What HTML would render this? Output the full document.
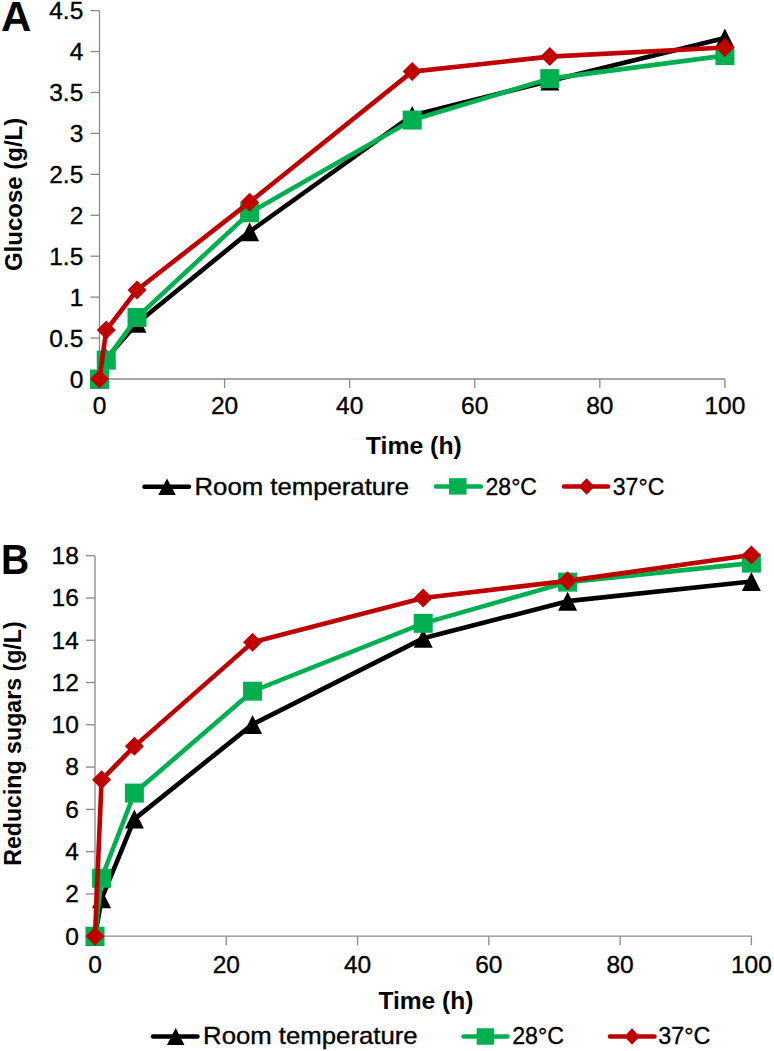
<!DOCTYPE html>
<html><head><meta charset="utf-8"><style>
html,body{margin:0;padding:0;background:#fff;}
svg{display:block;}
text{font-family:"Liberation Sans",sans-serif;fill:#000;}
.tk{font-size:24.5px;stroke:#000;stroke-width:0.35px;}
.lg{font-size:24px;stroke:#000;stroke-width:0.35px;}
.ti{font-size:24px;font-weight:bold;}
.big{font-size:42px;font-weight:bold;}
</style></head><body>
<svg width="774" height="1051" viewBox="0 0 774 1051">
<path d="M99.5,10.6 V379.0 H724.9" fill="none" stroke="#898989" stroke-width="1.3"/>
<path d="M90.5,379.00 H99.5" stroke="#898989" stroke-width="1.3"/>
<text x="83.3" y="387.70" text-anchor="end" class="tk">0</text>
<path d="M90.5,338.07 H99.5" stroke="#898989" stroke-width="1.3"/>
<text x="83.3" y="346.77" text-anchor="end" class="tk">0.5</text>
<path d="M90.5,297.13 H99.5" stroke="#898989" stroke-width="1.3"/>
<text x="83.3" y="305.83" text-anchor="end" class="tk">1</text>
<path d="M90.5,256.20 H99.5" stroke="#898989" stroke-width="1.3"/>
<text x="83.3" y="264.90" text-anchor="end" class="tk">1.5</text>
<path d="M90.5,215.27 H99.5" stroke="#898989" stroke-width="1.3"/>
<text x="83.3" y="223.97" text-anchor="end" class="tk">2</text>
<path d="M90.5,174.33 H99.5" stroke="#898989" stroke-width="1.3"/>
<text x="83.3" y="183.03" text-anchor="end" class="tk">2.5</text>
<path d="M90.5,133.40 H99.5" stroke="#898989" stroke-width="1.3"/>
<text x="83.3" y="142.10" text-anchor="end" class="tk">3</text>
<path d="M90.5,92.47 H99.5" stroke="#898989" stroke-width="1.3"/>
<text x="83.3" y="101.17" text-anchor="end" class="tk">3.5</text>
<path d="M90.5,51.53 H99.5" stroke="#898989" stroke-width="1.3"/>
<text x="83.3" y="60.23" text-anchor="end" class="tk">4</text>
<path d="M90.5,10.60 H99.5" stroke="#898989" stroke-width="1.3"/>
<text x="83.3" y="19.30" text-anchor="end" class="tk">4.5</text>
<path d="M224.58,379.0 V388.0" stroke="#898989" stroke-width="1.3"/>
<path d="M349.66,379.0 V388.0" stroke="#898989" stroke-width="1.3"/>
<path d="M474.74,379.0 V388.0" stroke="#898989" stroke-width="1.3"/>
<path d="M599.82,379.0 V388.0" stroke="#898989" stroke-width="1.3"/>
<path d="M724.90,379.0 V388.0" stroke="#898989" stroke-width="1.3"/>
<text x="99.50" y="414.3" text-anchor="middle" class="tk">0</text>
<text x="224.58" y="414.3" text-anchor="middle" class="tk">20</text>
<text x="349.66" y="414.3" text-anchor="middle" class="tk">40</text>
<text x="474.74" y="414.3" text-anchor="middle" class="tk">60</text>
<text x="599.82" y="414.3" text-anchor="middle" class="tk">80</text>
<text x="724.90" y="414.3" text-anchor="middle" class="tk">100</text>
<polyline points="99.50,379.00 106.25,358.53 137.02,323.33 249.60,231.64 412.20,115.39 549.79,81.01 724.90,38.03" fill="none" stroke="#000000" stroke-width="4.6" stroke-linejoin="round" stroke-linecap="round"/>
<path d="M99.50,369.50 L109.00,388.50 L90.00,388.50Z" fill="#000"/>
<path d="M106.25,349.03 L115.75,368.03 L96.75,368.03Z" fill="#000"/>
<path d="M137.02,313.83 L146.52,332.83 L127.52,332.83Z" fill="#000"/>
<path d="M249.60,222.14 L259.10,241.14 L240.10,241.14Z" fill="#000"/>
<path d="M412.20,105.89 L421.70,124.89 L402.70,124.89Z" fill="#000"/>
<path d="M549.79,71.51 L559.29,90.51 L540.29,90.51Z" fill="#000"/>
<path d="M724.90,28.53 L734.40,47.53 L715.40,47.53Z" fill="#000"/>
<polyline points="99.50,379.00 106.25,360.17 137.02,317.44 249.60,212.81 412.20,120.06 549.79,78.63 724.90,55.63" fill="none" stroke="#00B050" stroke-width="4.6" stroke-linejoin="round" stroke-linecap="round"/>
<rect x="90.00" y="369.50" width="19.00" height="19.00" fill="#00B050"/>
<rect x="96.75" y="350.67" width="19.00" height="19.00" fill="#00B050"/>
<rect x="127.52" y="307.94" width="19.00" height="19.00" fill="#00B050"/>
<rect x="240.10" y="203.31" width="19.00" height="19.00" fill="#00B050"/>
<rect x="402.70" y="110.56" width="19.00" height="19.00" fill="#00B050"/>
<rect x="540.29" y="69.13" width="19.00" height="19.00" fill="#00B050"/>
<rect x="715.40" y="46.13" width="19.00" height="19.00" fill="#00B050"/>
<polyline points="99.50,379.00 106.25,330.04 137.02,290.01 249.60,202.17 412.20,71.59 549.79,56.61 724.90,47.44" fill="none" stroke="#C00000" stroke-width="4.6" stroke-linejoin="round" stroke-linecap="round"/>
<path d="M99.50,369.50 L109.00,379.00 L99.50,388.50 L90.00,379.00Z" fill="#C00000"/>
<path d="M106.25,320.54 L115.75,330.04 L106.25,339.54 L96.75,330.04Z" fill="#C00000"/>
<path d="M137.02,280.51 L146.52,290.01 L137.02,299.51 L127.52,290.01Z" fill="#C00000"/>
<path d="M249.60,192.67 L259.10,202.17 L249.60,211.67 L240.10,202.17Z" fill="#C00000"/>
<path d="M412.20,62.09 L421.70,71.59 L412.20,81.09 L402.70,71.59Z" fill="#C00000"/>
<path d="M549.79,47.11 L559.29,56.61 L549.79,66.11 L540.29,56.61Z" fill="#C00000"/>
<path d="M724.90,37.94 L734.40,47.44 L724.90,56.94 L715.40,47.44Z" fill="#C00000"/>
<path d="M95.0,555.7 V936.2 H751.4" fill="none" stroke="#898989" stroke-width="1.3"/>
<path d="M86.0,936.20 H95.0" stroke="#898989" stroke-width="1.3"/>
<text x="78.8" y="944.50" text-anchor="end" class="tk">0</text>
<path d="M86.0,893.92 H95.0" stroke="#898989" stroke-width="1.3"/>
<text x="78.8" y="902.22" text-anchor="end" class="tk">2</text>
<path d="M86.0,851.64 H95.0" stroke="#898989" stroke-width="1.3"/>
<text x="78.8" y="859.94" text-anchor="end" class="tk">4</text>
<path d="M86.0,809.37 H95.0" stroke="#898989" stroke-width="1.3"/>
<text x="78.8" y="817.67" text-anchor="end" class="tk">6</text>
<path d="M86.0,767.09 H95.0" stroke="#898989" stroke-width="1.3"/>
<text x="78.8" y="775.39" text-anchor="end" class="tk">8</text>
<path d="M86.0,724.81 H95.0" stroke="#898989" stroke-width="1.3"/>
<text x="78.8" y="733.11" text-anchor="end" class="tk">10</text>
<path d="M86.0,682.53 H95.0" stroke="#898989" stroke-width="1.3"/>
<text x="78.8" y="690.83" text-anchor="end" class="tk">12</text>
<path d="M86.0,640.26 H95.0" stroke="#898989" stroke-width="1.3"/>
<text x="78.8" y="648.56" text-anchor="end" class="tk">14</text>
<path d="M86.0,597.98 H95.0" stroke="#898989" stroke-width="1.3"/>
<text x="78.8" y="606.28" text-anchor="end" class="tk">16</text>
<path d="M86.0,555.70 H95.0" stroke="#898989" stroke-width="1.3"/>
<text x="78.8" y="564.00" text-anchor="end" class="tk">18</text>
<path d="M226.28,936.2 V945.2" stroke="#898989" stroke-width="1.3"/>
<path d="M357.56,936.2 V945.2" stroke="#898989" stroke-width="1.3"/>
<path d="M488.84,936.2 V945.2" stroke="#898989" stroke-width="1.3"/>
<path d="M620.12,936.2 V945.2" stroke="#898989" stroke-width="1.3"/>
<path d="M751.40,936.2 V945.2" stroke="#898989" stroke-width="1.3"/>
<text x="95.00" y="972.5" text-anchor="middle" class="tk">0</text>
<text x="226.28" y="972.5" text-anchor="middle" class="tk">20</text>
<text x="357.56" y="972.5" text-anchor="middle" class="tk">40</text>
<text x="488.84" y="972.5" text-anchor="middle" class="tk">60</text>
<text x="620.12" y="972.5" text-anchor="middle" class="tk">80</text>
<text x="751.40" y="972.5" text-anchor="middle" class="tk">100</text>
<polyline points="95.00,936.20 101.56,898.78 134.38,819.09 252.54,724.39 423.20,638.35 567.61,601.15 751.40,581.49" fill="none" stroke="#000000" stroke-width="4.6" stroke-linejoin="round" stroke-linecap="round"/>
<path d="M95.00,926.70 L104.50,945.70 L85.50,945.70Z" fill="#000"/>
<path d="M101.56,889.28 L111.06,908.28 L92.06,908.28Z" fill="#000"/>
<path d="M134.38,809.59 L143.88,828.59 L124.88,828.59Z" fill="#000"/>
<path d="M252.54,714.89 L262.04,733.89 L243.04,733.89Z" fill="#000"/>
<path d="M423.20,628.85 L432.70,647.85 L413.70,647.85Z" fill="#000"/>
<path d="M567.61,591.65 L577.11,610.65 L558.11,610.65Z" fill="#000"/>
<path d="M751.40,571.99 L760.90,590.99 L741.90,590.99Z" fill="#000"/>
<polyline points="95.00,936.20 101.56,878.28 134.38,793.09 252.54,691.20 423.20,623.34 567.61,582.12 751.40,563.10" fill="none" stroke="#00B050" stroke-width="4.6" stroke-linejoin="round" stroke-linecap="round"/>
<rect x="85.50" y="926.70" width="19.00" height="19.00" fill="#00B050"/>
<rect x="92.06" y="868.78" width="19.00" height="19.00" fill="#00B050"/>
<rect x="124.88" y="783.59" width="19.00" height="19.00" fill="#00B050"/>
<rect x="243.04" y="681.70" width="19.00" height="19.00" fill="#00B050"/>
<rect x="413.70" y="613.84" width="19.00" height="19.00" fill="#00B050"/>
<rect x="558.11" y="572.62" width="19.00" height="19.00" fill="#00B050"/>
<rect x="741.90" y="553.60" width="19.00" height="19.00" fill="#00B050"/>
<polyline points="95.00,936.20 101.56,779.77 134.38,746.37 252.54,642.37 423.20,597.98 567.61,580.86 751.40,555.07" fill="none" stroke="#C00000" stroke-width="4.6" stroke-linejoin="round" stroke-linecap="round"/>
<path d="M95.00,926.70 L104.50,936.20 L95.00,945.70 L85.50,936.20Z" fill="#C00000"/>
<path d="M101.56,770.27 L111.06,779.77 L101.56,789.27 L92.06,779.77Z" fill="#C00000"/>
<path d="M134.38,736.87 L143.88,746.37 L134.38,755.87 L124.88,746.37Z" fill="#C00000"/>
<path d="M252.54,632.87 L262.04,642.37 L252.54,651.87 L243.04,642.37Z" fill="#C00000"/>
<path d="M423.20,588.48 L432.70,597.98 L423.20,607.48 L413.70,597.98Z" fill="#C00000"/>
<path d="M567.61,571.36 L577.11,580.86 L567.61,590.36 L558.11,580.86Z" fill="#C00000"/>
<path d="M751.40,545.57 L760.90,555.07 L751.40,564.57 L741.90,555.07Z" fill="#C00000"/>
<path d="M144.5,486.8 H189" stroke="#000000" stroke-width="4.5" stroke-linecap="round"/>
<path d="M167.00,478.55 L175.75,495.05 L158.25,495.05Z" fill="#000"/>
<path d="M436,486.4 H481" stroke="#00B050" stroke-width="4.5" stroke-linecap="round"/>
<rect x="449.05" y="478.15" width="17.50" height="16.50" fill="#00B050"/>
<path d="M564,486.4 H608" stroke="#C00000" stroke-width="4.5" stroke-linecap="round"/>
<path d="M586.60,478.15 L594.60,486.40 L586.60,494.65 L578.60,486.40Z" fill="#C00000"/>
<path d="M153,1036.5 H197.5" stroke="#000000" stroke-width="4.5" stroke-linecap="round"/>
<path d="M175.70,1028.00 L184.45,1045.00 L166.95,1045.00Z" fill="#000"/>
<path d="M463.5,1036.5 H507.5" stroke="#00B050" stroke-width="4.5" stroke-linecap="round"/>
<rect x="476.65" y="1028.25" width="17.50" height="16.50" fill="#00B050"/>
<path d="M610,1036.5 H654.5" stroke="#C00000" stroke-width="4.5" stroke-linecap="round"/>
<path d="M632.00,1028.25 L639.75,1036.50 L632.00,1044.75 L624.25,1036.50Z" fill="#C00000"/>
<text x="1" y="30.7" class="big">A</text>
<text x="0.9" y="574.0" class="big" textLength="28.2" lengthAdjust="spacingAndGlyphs">B</text>
<text x="413.8" y="453.6" class="ti" text-anchor="middle" textLength="96" lengthAdjust="spacingAndGlyphs">Time (h)</text>
<text x="425.9" y="1009.4" class="ti" text-anchor="middle" textLength="95" lengthAdjust="spacingAndGlyphs">Time (h)</text>
<text transform="translate(21.9,194.4) rotate(-90)" text-anchor="middle" class="ti">Glucose (g/L)</text>
<text transform="translate(20.5,743.6) rotate(-90)" text-anchor="middle" class="ti" textLength="244.5" lengthAdjust="spacingAndGlyphs">Reducing sugars (g/L)</text>
<text x="194.5" y="495.3" class="lg" textLength="214.5" lengthAdjust="spacingAndGlyphs">Room temperature</text>
<text x="485.5" y="495.0" class="lg" textLength="51.5" lengthAdjust="spacingAndGlyphs">28°C</text>
<text x="612.8" y="495.0" class="lg" textLength="51.5" lengthAdjust="spacingAndGlyphs">37°C</text>
<text x="203.1" y="1044.2" class="lg" textLength="214.5" lengthAdjust="spacingAndGlyphs">Room temperature</text>
<text x="512.2" y="1043.9" class="lg" textLength="51.8" lengthAdjust="spacingAndGlyphs">28°C</text>
<text x="658.2" y="1044.0" class="lg" textLength="52.2" lengthAdjust="spacingAndGlyphs">37°C</text>
</svg>
</body></html>
